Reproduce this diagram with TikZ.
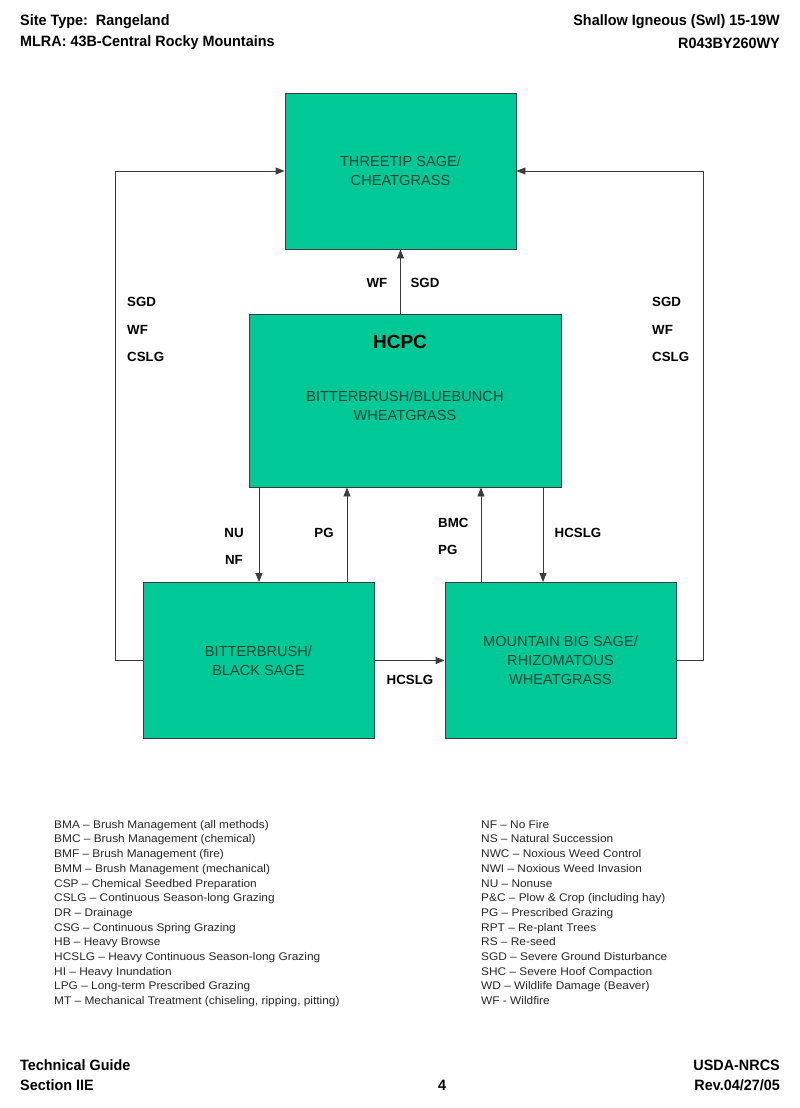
\documentclass[tikz,border=0pt]{standalone}
\usepackage{fontspec}
\setmainfont{Liberation Sans}
\newfontfamily\narrowfont[FakeStretch=0.96,Ligatures=TeX]{Liberation Sans}
\newfontfamily\legfont[FakeStretch=1.07,Ligatures=TeX]{Liberation Sans}
\usetikzlibrary{arrows.meta,positioning}
\definecolor{boxfill}{RGB}{0,200,150}
\definecolor{boxtext}{RGB}{20,70,55}
\definecolor{linecol}{RGB}{60,60,60}
\tikzset{
  statebox/.style={draw=linecol,line width=0.9pt,fill=boxfill,inner sep=0pt,align=center,
    text=boxtext,font=\fontsize{14.6}{18.8}\selectfont},
  arr/.style={draw=linecol,line width=0.9pt,-{Triangle[length=9pt,width=7pt]}},
  lab/.style={font=\fontsize{13.3}{15}\selectfont\bfseries,inner sep=0pt},
  hdr/.style={font=\fontsize{15}{17}\selectfont\narrowfont\bfseries,inner sep=0pt},
  legend/.style={font=\fontsize{11.1}{14.7}\selectfont\legfont,align=left,inner sep=0pt,anchor=north west,text=black!85}
}
\begin{document}
\begin{tikzpicture}[x=1pt,y=-1pt]
\useasboundingbox[fill=white] (0,0) rectangle (800,1108);
% header
\node[hdr,anchor=west] (h1) at (20,22) {Site Type:\ \ Rangeland};
\node[hdr,anchor=west] (h2) at (20,43) {MLRA: 43B-Central Rocky Mountains};
\node[hdr,anchor=east] (h3) at (780,22) {Shallow Igneous (Swl) 15-19W};
\node[hdr,anchor=east] (h4) at (780,43) {R043BY260WY};
% boxes
\node[statebox,minimum width=231pt,minimum height=156pt] (top) at (400.5,171) {THREETIP SAGE/\\CHEATGRASS};
\node[statebox,minimum width=312pt,minimum height=173pt] (hcpc) at (405,400.5) {\\[2pt]BITTERBRUSH/BLUEBUNCH\\WHEATGRASS};
\node[inner sep=0pt,font=\fontsize{19}{21}\selectfont\bfseries] (hcpclab) at (400,342) {HCPC};
\node[statebox,minimum width=231pt,minimum height=156pt] (left) at (258.5,660.5) {BITTERBRUSH/\\BLACK SAGE};
\node[statebox,minimum width=231pt,minimum height=156pt] (right) at (560.5,660.5) {MOUNTAIN BIG SAGE/\\RHIZOMATOUS\\WHEATGRASS};
% connectors
\draw[arr] (top.south |- hcpc.north) -- (top.south);
\draw[arr] (left.west) -- ++(-27,0) |- (top.west);
\draw[arr] (right.east) -- ++(27,0) |- (top.east);
\draw[arr] (259,0 |- hcpc.south) -- (259,0 |- left.north);
\draw[arr] (347,0 |- left.north) -- (347,0 |- hcpc.south);
\draw[arr] (481,0 |- right.north) -- (481,0 |- hcpc.south);
\draw[arr] (543,0 |- hcpc.south) -- (543,0 |- right.north);
\draw[arr] (left.east) -- (right.west);
% labels
\node[lab] (l1) at (377,283) {WF};
\node[lab] (l2) at (425,283) {SGD};
\node[lab,anchor=west] (l3) at (127,302) {SGD};
\node[lab,anchor=west] (l4) at (127,330) {WF};
\node[lab,anchor=west] (l5) at (127,357) {CSLG};
\node[lab,anchor=west] (l6) at (652,302) {SGD};
\node[lab,anchor=west] (l7) at (652,330) {WF};
\node[lab,anchor=west] (l8) at (652,357) {CSLG};
\node[lab] (l9) at (234,533) {NU};
\node[lab] (l10) at (234,560) {NF};
\node[lab] (l11) at (324,533) {PG};
\node[lab,anchor=west] (l12) at (438,523) {BMC};
\node[lab,anchor=west] (l13) at (438,550) {PG};
\node[lab] (l14) at (578,533) {HCSLG};
\node[lab] (l15) at (410,680) {HCSLG};
% legend
\node[legend] (leg1) at (54,820) {BMA – Brush Management (all methods)\\
BMC – Brush Management (chemical)\\
BMF – Brush Management (fire)\\
BMM – Brush Management (mechanical)\\
CSP – Chemical Seedbed Preparation\\
CSLG – Continuous Season-long Grazing\\
DR – Drainage\\
CSG – Continuous Spring Grazing\\
HB – Heavy Browse\\
HCSLG – Heavy Continuous Season-long Grazing\\
HI – Heavy Inundation\\
LPG – Long-term Prescribed Grazing\\
MT – Mechanical Treatment (chiseling, ripping, pitting)};
\node[legend] (leg2) at (481,820) {NF – No Fire\\
NS – Natural Succession\\
NWC – Noxious Weed Control\\
NWI – Noxious Weed Invasion\\
NU – Nonuse\\
P\&C – Plow \& Crop (including hay)\\
PG – Prescribed Grazing\\
RPT – Re-plant Trees\\
RS – Re-seed\\
SGD – Severe Ground Disturbance\\
SHC – Severe Hoof Compaction\\
WD – Wildlife Damage (Beaver)\\
WF - Wildfire};
% footer
\node[hdr,anchor=west] (f1) at (20,1065) {Technical Guide};
\node[hdr,anchor=west] (f2) at (20,1085) {Section IIE};
\node[hdr] (f3) at (442,1085) {4};
\node[hdr,anchor=east] (f4) at (780,1065) {USDA-NRCS};
\node[hdr,anchor=east] (f5) at (780,1085) {Rev.04/27/05};
\end{tikzpicture}
\end{document}
